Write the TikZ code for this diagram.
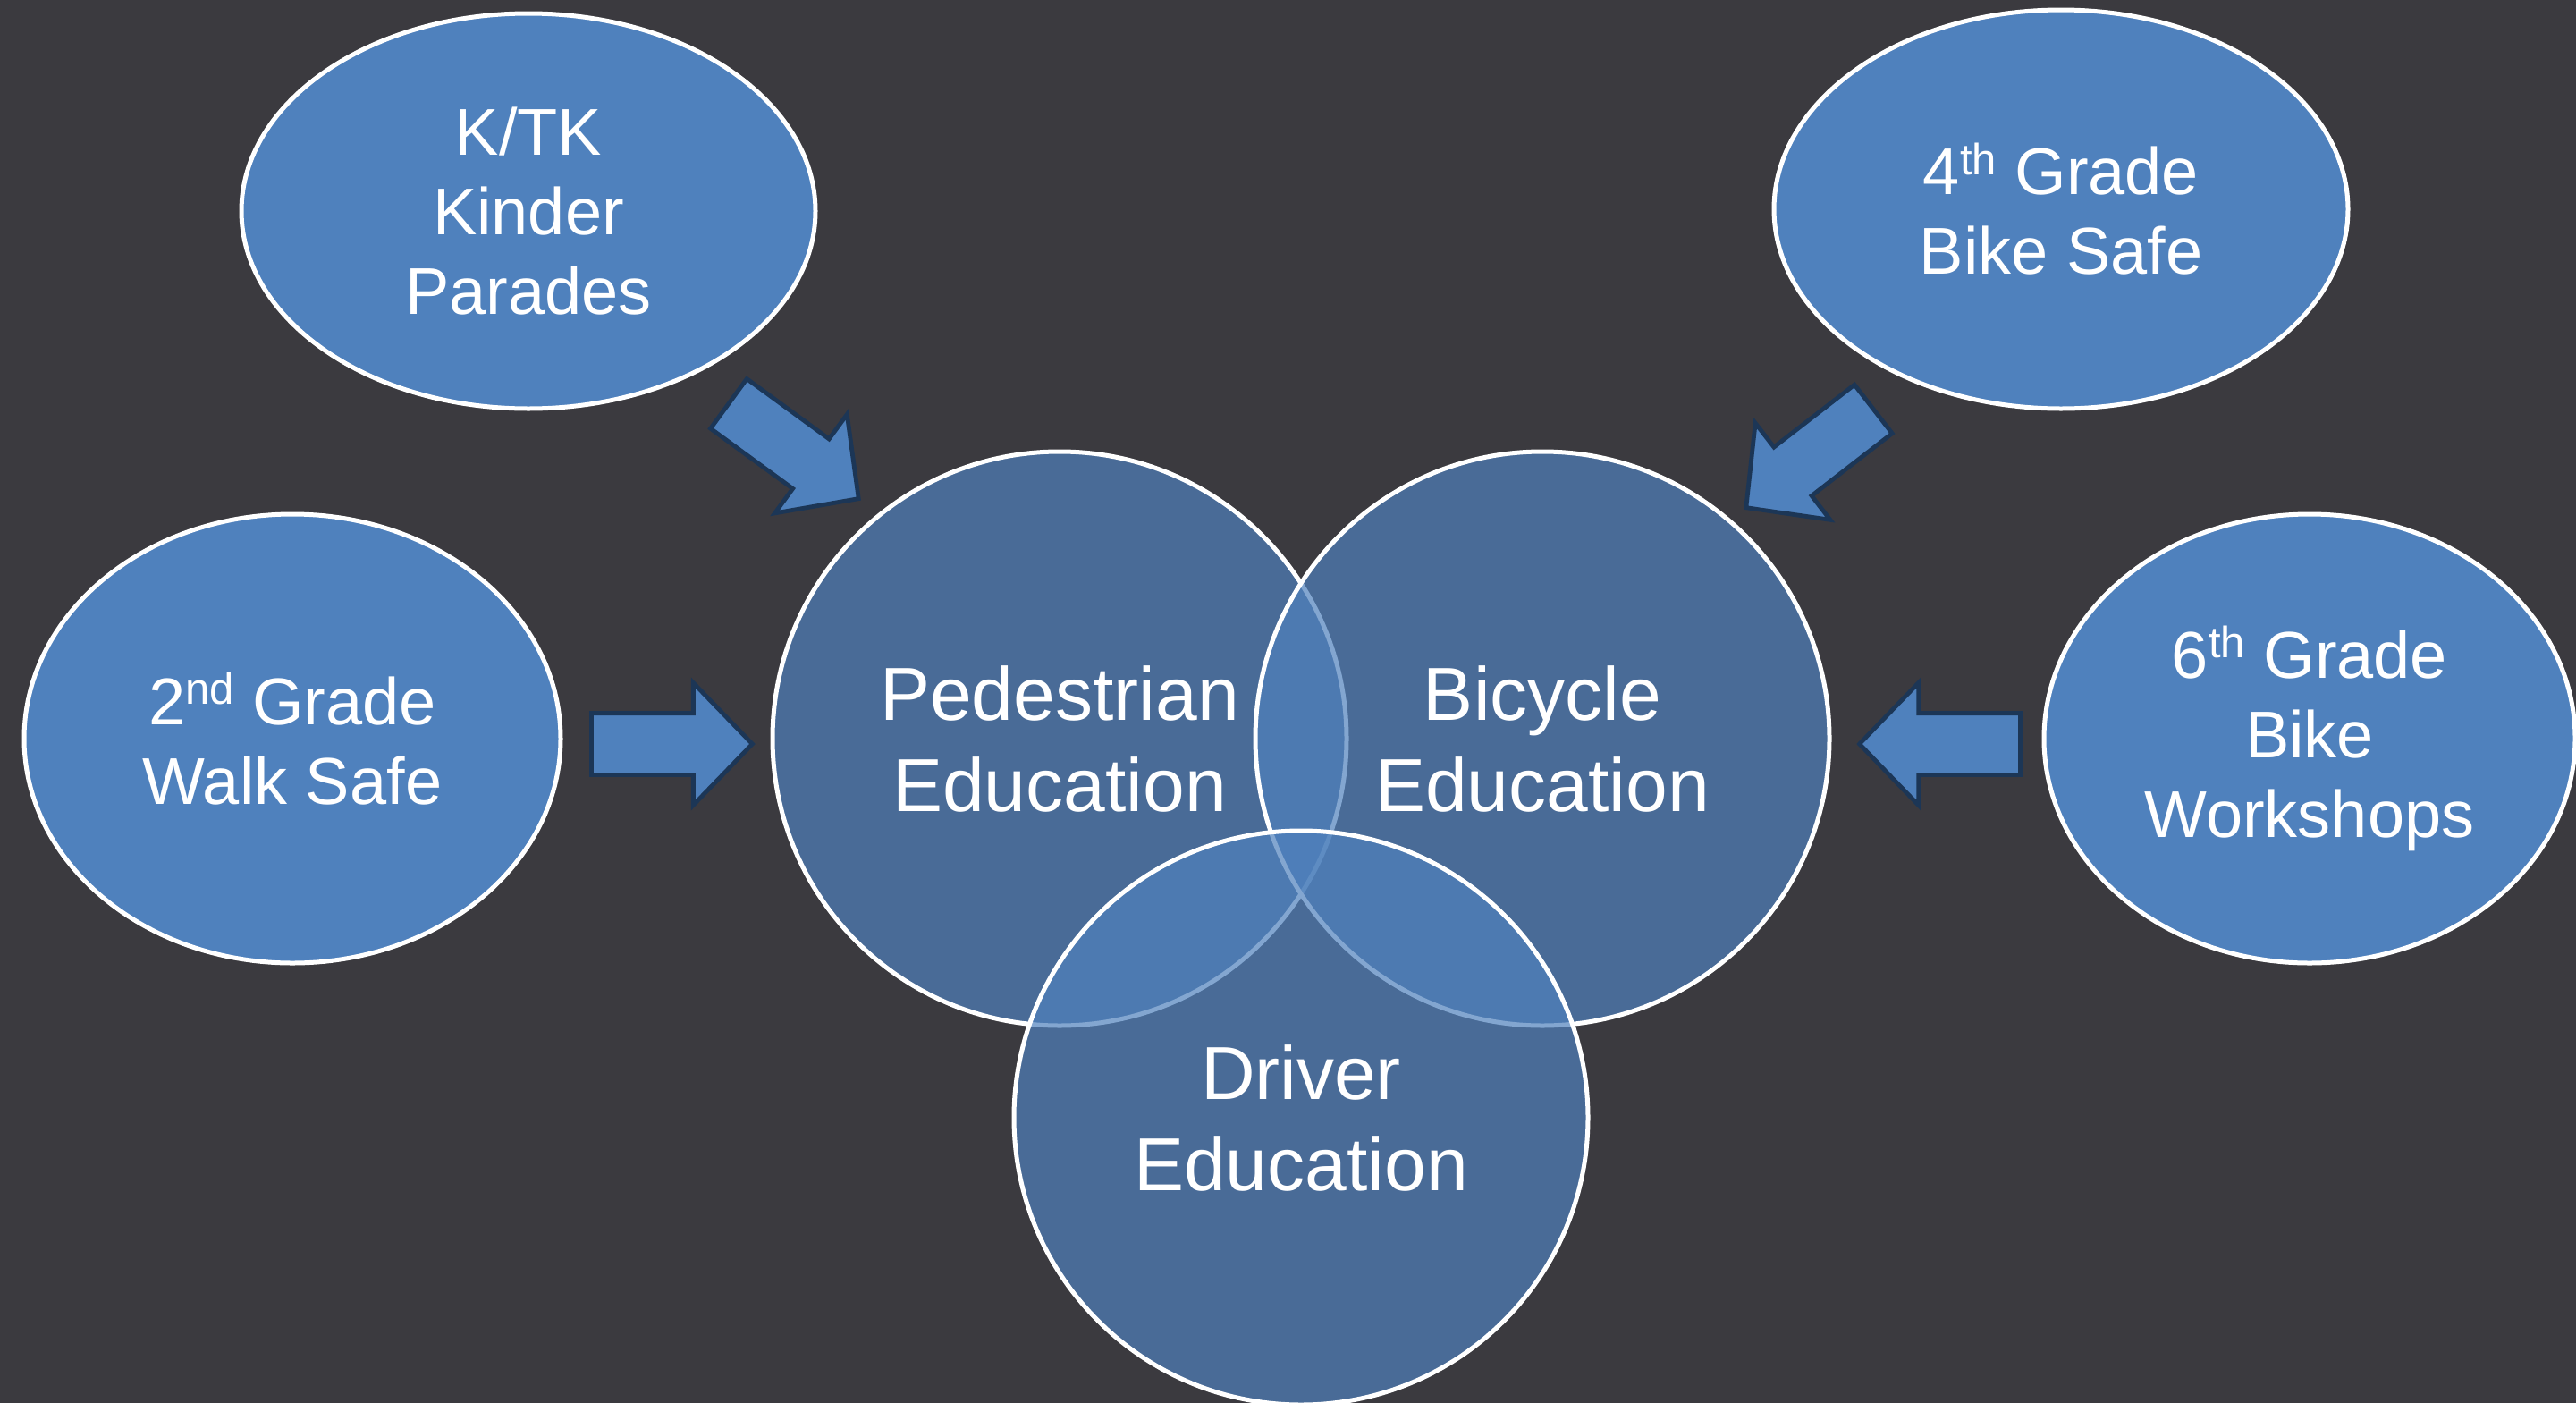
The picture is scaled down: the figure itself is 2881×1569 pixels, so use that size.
\documentclass[tikz,border=0pt]{standalone}
\usepackage{fontspec}
\setmainfont{Liberation Sans}
\usetikzlibrary{shapes.geometric,shapes.arrows}
\definecolor{board}{HTML}{3B3A3F}
\definecolor{accent}{HTML}{4F81BD}
\definecolor{arrowline}{HTML}{1C3656}
\newcommand\supth[1]{\raisebox{0.3em}{\fontsize{24.5pt}{24.5pt}\selectfont #1}}
\begin{document}
\begin{tikzpicture}[x=0.5pt,y=-0.5pt,
  bubble/.style={ellipse, draw=white, line width=2.5pt, fill=accent, text=white,
    inner sep=0pt, align=center, font=\fontsize{37pt}{44.5pt}\selectfont},
  venn/.style={circle, draw=white, line width=2.5pt, fill=accent, fill opacity=0.7,
    draw opacity=1, text opacity=1, text=white, minimum size=321pt, inner sep=0pt,
    align=center, font=\fontsize{42pt}{51pt}\selectfont},
  blockarrow/.style={single arrow, draw=arrowline, line width=2.4pt, fill=accent,
    minimum height=90pt, minimum width=66pt, single arrow head extend=17pt,
    single arrow head indent=0pt, single arrow tip angle=92,
    inner xsep=0pt, inner ysep=16pt, sloped, allow upside down,
    pos=0, anchor=tail}
]
\useasboundingbox (0,0) rectangle (2881,1569);
\fill[board] (0,0) rectangle (2881,1569);

% outer bubbles
\node[bubble, minimum width=321pt, minimum height=221pt] (ktk) at (591,236) {K/TK\\Kinder\\Parades};
\node[bubble, minimum width=321pt, minimum height=223pt] (fourth) at (2305,234) {4\supth{th} Grade\\Bike Safe};
\node[bubble, minimum width=300pt, minimum height=251pt] (second) at (327,826) {2\supth{nd} Grade\\Walk Safe};
\node[bubble, minimum width=297pt, minimum height=251pt] (sixth) at (2583,826) {6\supth{th} Grade\\Bike\\Workshops};

% block arrows
\coordinate (a1s) at (813,450);  \coordinate (a1e) at (958,556);
\coordinate (a2s) at (659,832);  \coordinate (a2e) at (839,832);
\coordinate (a3s) at (2097,456); \coordinate (a3e) at (1955,566);
\coordinate (a4s) at (2262,832); \coordinate (a4e) at (2083,832);
\path (a1s) -- node[blockarrow] (arr1) {} (a1e);
\path (a2s) -- node[blockarrow] (arr2) {} (a2e);
\path (a3s) -- node[blockarrow] (arr3) {} (a3e);
\path (a4s) -- node[blockarrow] (arr4) {} (a4e);

% venn circles
\node[venn] (ped) at (1185,826) {Pedestrian\\Education};
\node[venn] (bike) at (1725,826) {Bicycle\\Education};
\node[venn] (drv) at (1455,1250) {Driver\\Education};
\end{tikzpicture}
\end{document}
